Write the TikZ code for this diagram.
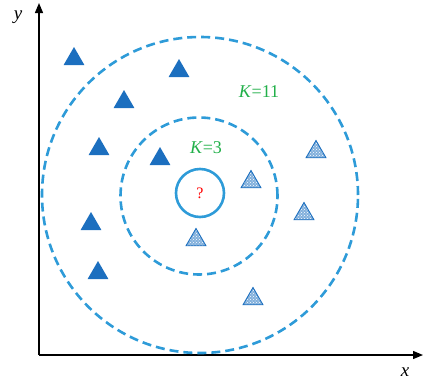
\documentclass[tikz,border=0pt]{standalone}
\usepackage{fontspec}
\setmainfont{Liberation Serif}
\usetikzlibrary{shapes.geometric,patterns,arrows.meta}
\definecolor{ring}{HTML}{2E9BD8}
\definecolor{solidtri}{HTML}{1C6FBF}
\definecolor{kgreen}{HTML}{22B04A}
\tikzset{
  ringdash/.style={circle,draw=ring,line width=2.6pt,dash pattern=on 9pt off 5pt,inner sep=0pt},
  filltri/.style={regular polygon,regular polygon sides=3,minimum size=24pt,inner sep=0pt,fill=solidtri},
  dottri/.style={regular polygon,regular polygon sides=3,minimum size=23pt,inner sep=0pt,draw=solidtri,line width=0.9pt,preaction={fill=solidtri!55},pattern=crosshatch dots,pattern color=white},
  axis/.style={line width=1.3pt,-{Triangle[length=10pt,width=8pt]}},
  lbl/.style={font=\fontsize{19}{21}\selectfont\itshape}
}
\begin{document}
\begin{tikzpicture}[x=1pt,y=-1pt]
\useasboundingbox (0,0) rectangle (425,388);
\coordinate (o) at (39,355);
\coordinate (xe) at (423,355);
\coordinate (ye) at (39,3);
\draw[axis] (o) -- (xe);
\draw[axis] (o) -- (ye);
\node[lbl] (xl) at (405,372) {x};
\node[lbl] (yl) at (18,17) {y};
\node[ringdash,minimum size=316pt] (outer) at (200,195) {};
\node[ringdash,minimum size=157pt] (inner) at (199,196) {};
\node[circle,draw=ring,line width=2.6pt,minimum size=48pt,inner sep=0pt] (q) at (200,193) {};
\node[text=red,font=\fontsize{16}{18}\selectfont] (qm) at (200,193) {?};
\node[text=kgreen,font=\fontsize{18}{20}\selectfont] (k11) at (259,92) {\textit{K}=11};
\node[text=kgreen,font=\fontsize{18}{20}\selectfont] (k3) at (206,148) {\textit{K}=3};
\node[filltri] (a1) at (74,59) {};
\node[filltri] (a2) at (179,71) {};
\node[filltri] (a3) at (124,102) {};
\node[filltri] (a4) at (99,149) {};
\node[filltri] (a5) at (160,159) {};
\node[filltri] (a6) at (91,224) {};
\node[filltri] (a7) at (98,273) {};
\node[dottri] (b1) at (251,182) {};
\node[dottri] (b2) at (316,152) {};
\node[dottri] (b3) at (304,214) {};
\node[dottri] (b4) at (196,240) {};
\node[dottri] (b5) at (253,299) {};
\end{tikzpicture}
\end{document}
